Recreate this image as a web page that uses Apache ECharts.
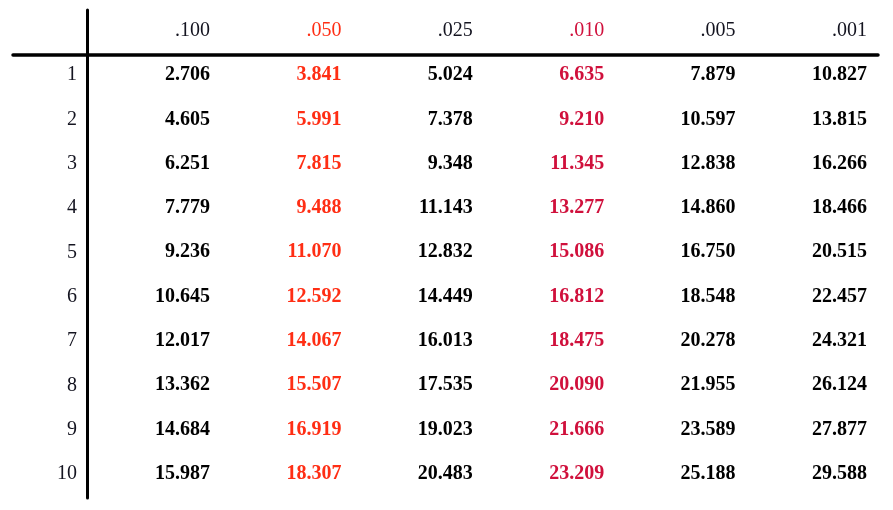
<!DOCTYPE html>
<html>
<head>
<meta charset="utf-8">
<script src="https://cdn.jsdelivr.net/npm/echarts@6/dist/echarts.min.js"></script>
<style>
html,body{margin:0;padding:0;background:#fff;}
#chart{width:893px;height:510px;}
</style>
</head>
<body>
<div id="chart"></div>
<script>
// ---- data ----
var columnHeaders = ['.100', '.050', '.025', '.010', '.005', '.001'];
var rowLabels = ['1', '2', '3', '4', '5', '6', '7', '8', '9', '10'];
var col100 = ['2.706', '4.605', '6.251', '7.779', '9.236', '10.645', '12.017', '13.362', '14.684', '15.987'];
var col050 = ['3.841', '5.991', '7.815', '9.488', '11.070', '12.592', '14.067', '15.507', '16.919', '18.307'];
var col025 = ['5.024', '7.378', '9.348', '11.143', '12.832', '14.449', '16.013', '17.535', '19.023', '20.483'];
var col010 = ['6.635', '9.210', '11.345', '13.277', '15.086', '16.812', '18.475', '20.090', '21.666', '23.209'];
var col005 = ['7.879', '10.597', '12.838', '14.860', '16.750', '18.548', '20.278', '21.955', '23.589', '25.188'];
var col001 = ['10.827', '13.815', '16.266', '18.466', '20.515', '22.457', '24.321', '26.124', '27.877', '29.588'];
var columns = [col100, col050, col025, col010, col005, col001];

// ---- styles ----
var FONT = '"Liberation Serif", "Times New Roman", serif';
var colColors = ['#000000', '#FF2E14', '#000000', '#D0103C', '#000000', '#000000'];
var headerColors = ['#141420', '#FF2E14', '#141420', '#D0103C', '#141420', '#141420'];
var ROW_LABEL_X = -0.012;

var series = [];

function baseSeries(data, label) {
  return {
    type: 'scatter',
    symbolSize: 0,
    silent: true,
    itemStyle: { opacity: 1 },
    data: data,
    label: Object.assign({
      show: true, position: 'inside', align: 'right', verticalAlign: 'middle',
      fontFamily: FONT, fontSize: 20, opacity: 1
    }, label)
  };
}

// header row (y = 0)
series.push(baseSeries(columnHeaders.map(function (h, j) {
  return { value: [j + 1, 0], label: { formatter: h, color: headerColors[j] } };
}), { fontWeight: 'normal' }));

// row labels
series.push(baseSeries(rowLabels.map(function (r, i) {
  return { value: [ROW_LABEL_X, i + 1], label: { formatter: r } };
}), { fontWeight: 'normal', color: '#141420' }));

// value cells
columns.forEach(function (col, j) {
  series.push(baseSeries(col.map(function (v, i) {
    return { value: [j + 1, i + 1], label: { formatter: v } };
  }), { fontWeight: 'bold', color: colColors[j] }));
});

var chart = echarts.init(document.getElementById('chart'), null, { renderer: 'canvas' });
chart.setOption({
  animation: false,
  backgroundColor: '#ffffff',
  grid: { left: 13, right: 15, top: 10, bottom: 12, containLabel: false },
  xAxis: {
    type: 'value',
    min: -0.4993, max: 6.0837,
    position: 'top',
    offset: -45,
    axisLine: { show: true, onZero: false, lineStyle: { color: '#000', width: 3.5 } },
    axisTick: { show: false },
    axisLabel: { show: false },
    splitLine: { show: false }
  },
  yAxis: {
    type: 'value',
    inverse: true,
    min: -0.4663, max: 10.542,
    position: 'left',
    offset: -74.5,
    axisLine: { show: true, onZero: false, lineStyle: { color: '#000', width: 3 } },
    axisTick: { show: false },
    axisLabel: { show: false },
    splitLine: { show: false }
  },
  series: series
});
</script>
</body>
</html>
